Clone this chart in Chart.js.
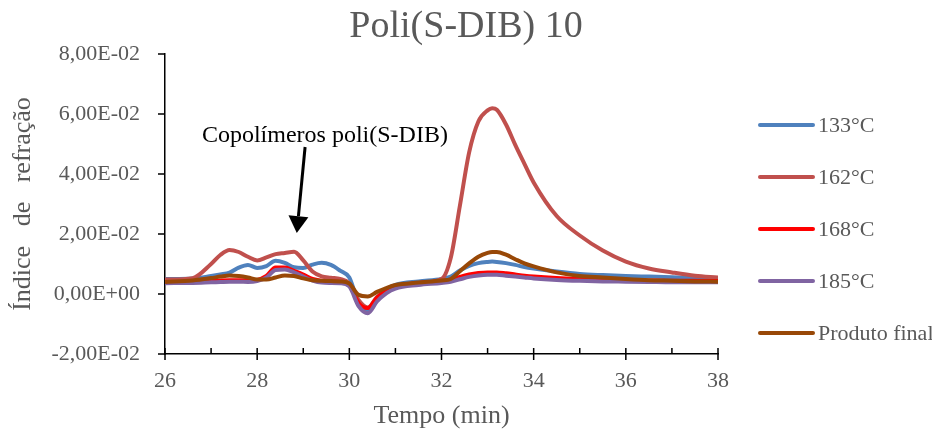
<!DOCTYPE html>
<html>
<head>
<meta charset="utf-8">
<script src="https://cdn.jsdelivr.net/npm/chart.js@4.4.1/dist/chart.umd.min.js"></script>
<style>
  html, body { margin: 0; padding: 0; background: #fff; }
</style>
</head>
<body>
<canvas id="gpc" width="932" height="432"></canvas>
<script>
// retention time (min)
const tempo = [26, 26.6, 27, 27.2, 27.4, 27.6, 27.8, 28, 28.2, 28.4, 28.6, 28.8, 29, 29.2, 29.4, 29.6, 29.8,
  30, 30.2, 30.4, 30.6, 30.8, 31, 31.5, 32, 32.2, 32.4, 32.6, 32.8, 33, 33.1, 33.2, 33.4, 33.6, 33.8, 34,
  34.5, 35, 35.5, 36, 36.5, 37, 37.5, 38];

// refractive index signal per synthesis temperature
const s133 = [0.0050, 0.0052, 0.0060, 0.0065, 0.0071, 0.0088, 0.0097, 0.0087, 0.0093, 0.0111, 0.0104, 0.0089, 0.0087, 0.0098, 0.0104, 0.0097, 0.0078,
  0.0055, -0.0030, -0.0058, -0.0015, 0.0015, 0.0030, 0.0042, 0.0050, 0.0058, 0.0078, 0.0094, 0.0103, 0.0107, 0.0108, 0.0107, 0.0103, 0.0097, 0.0090, 0.0085,
  0.0075, 0.0067, 0.0063, 0.0060, 0.0058, 0.0056, 0.0054, 0.0053];
const s162 = [0.0048, 0.0053, 0.0100, 0.0130, 0.0147, 0.0140, 0.0124, 0.0112, 0.0122, 0.0133, 0.0137, 0.0141, 0.0112, 0.0075, 0.0059, 0.0054, 0.0050,
  0.0035, -0.0020, -0.0045, -0.0010, 0.0012, 0.0025, 0.0037, 0.0050, 0.0120, 0.0295, 0.0472, 0.0575, 0.0612, 0.0619, 0.0614, 0.0565, 0.0497, 0.0434, 0.0372,
  0.0260, 0.0195, 0.0145, 0.0108, 0.0085, 0.0072, 0.0061, 0.0055];
const s168 = [0.0040, 0.0041, 0.0043, 0.0045, 0.0046, 0.0046, 0.0045, 0.0047, 0.0060, 0.0088, 0.0088, 0.0077, 0.0065, 0.0050, 0.0044, 0.0042, 0.0040,
  0.0030, -0.0030, -0.0047, -0.0012, 0.0010, 0.0025, 0.0036, 0.0043, 0.0047, 0.0057, 0.0065, 0.0070, 0.0072, 0.0072, 0.0072, 0.0069, 0.0065, 0.0061, 0.0058,
  0.0053, 0.0050, 0.0048, 0.0046, 0.0045, 0.0044, 0.0044, 0.0043];
const s185 = [0.0036, 0.0037, 0.0039, 0.0040, 0.0041, 0.0041, 0.0040, 0.0043, 0.0055, 0.0080, 0.0082, 0.0072, 0.0058, 0.0045, 0.0038, 0.0037, 0.0036,
  0.0025, -0.0040, -0.0064, -0.0025, 0.0002, 0.0018, 0.0030, 0.0037, 0.0041, 0.0049, 0.0057, 0.0062, 0.0064, 0.0064, 0.0064, 0.0061, 0.0058, 0.0055, 0.0052,
  0.0047, 0.0044, 0.0042, 0.0041, 0.0040, 0.0039, 0.0039, 0.0039];
const sFinal = [0.0040, 0.0045, 0.0053, 0.0058, 0.0062, 0.0060, 0.0055, 0.0048, 0.0048, 0.0055, 0.0062, 0.0060, 0.0052, 0.0046, 0.0044, 0.0043, 0.0042,
  0.0035, -0.0003, -0.0008, 0.0007, 0.0020, 0.0030, 0.0038, 0.0045, 0.0050, 0.0076, 0.0102, 0.0124, 0.0137, 0.0140, 0.0140, 0.0131, 0.0116, 0.0102, 0.0092,
  0.0072, 0.0060, 0.0055, 0.0050, 0.0046, 0.0044, 0.0042, 0.0041];

const seriesNames = ["133°C", "162°C", "168°C", "185°C", "Produto final"];
const seriesColors = ["#4F81BD", "#C0504D", "#FF0000", "#8064A2", "#984807"];
const seriesValues = [s133, s162, s168, s185, sFinal];

const xTicks = [26, 28, 30, 32, 34, 36, 38];
const xMinorTicks = [27, 29, 31, 33, 35, 37];
const yTicks = [-0.02, 0, 0.02, 0.04, 0.06, 0.08];

const SERIF = "'Liberation Serif', 'Times New Roman', serif";
const GREY = "#595959";

// "8,00E-02" style labels
function sciLabel(v) {
  if (Math.abs(v) < 1e-12) v = 0;
  const parts = v.toExponential(2).split("e");
  const exp = parseInt(parts[1], 10);
  return parts[0].replace(".", ",") + "E" + (exp < 0 ? "-" : "+") + String(Math.abs(exp)).padStart(2, "0");
}

// tick marks: y outside, x major crossing, x minor inside
const tickMarks = {
  id: "tickMarks",
  afterDraw(chart) {
    const { ctx, chartArea, scales: { x, y } } = chart;
    ctx.save();
    ctx.strokeStyle = "#000";
    ctx.lineWidth = 1.5;
    ctx.beginPath();
    yTicks.forEach(v => {
      const py = y.getPixelForValue(v);
      ctx.moveTo(chartArea.left - 7, py);
      ctx.lineTo(chartArea.left, py);
    });
    xTicks.forEach(v => {
      const px = x.getPixelForValue(v);
      ctx.moveTo(px, chartArea.bottom - 6);
      ctx.lineTo(px, chartArea.bottom + 6);
    });
    xMinorTicks.forEach(v => {
      const px = x.getPixelForValue(v);
      ctx.moveTo(px, chartArea.bottom - 6);
      ctx.lineTo(px, chartArea.bottom);
    });
    ctx.stroke();
    ctx.restore();
  }
};

// label + arrow pointing at the copolymer peaks
const note = { text: "Copolímeros poli(S-DIB)", tx: 29.47, ty: 0.0527, fromX: 29.04, fromY: 0.049, toX: 28.86, toY: 0.0203 };

const annotation = {
  id: "annotation",
  afterDraw(chart) {
    const { ctx, scales: { x, y } } = chart;
    ctx.save();
    ctx.fillStyle = "#000";
    ctx.strokeStyle = "#000";
    ctx.font = "24px " + SERIF;
    ctx.textAlign = "center";
    ctx.textBaseline = "middle";
    ctx.fillText(note.text, x.getPixelForValue(note.tx), y.getPixelForValue(note.ty));

    const x1 = x.getPixelForValue(note.fromX), y1 = y.getPixelForValue(note.fromY);
    const x2 = x.getPixelForValue(note.toX), y2 = y.getPixelForValue(note.toY);
    const ang = Math.atan2(y2 - y1, x2 - x1);
    const head = 17, half = 10;
    const bx = x2 - head * Math.cos(ang), by = y2 - head * Math.sin(ang);
    ctx.lineWidth = 3;
    ctx.beginPath();
    ctx.moveTo(x1, y1);
    ctx.lineTo(bx, by);
    ctx.stroke();
    ctx.beginPath();
    ctx.moveTo(x2, y2);
    ctx.lineTo(bx + half * Math.sin(ang), by - half * Math.cos(ang));
    ctx.lineTo(bx - half * Math.sin(ang), by + half * Math.cos(ang));
    ctx.closePath();
    ctx.fill();
    ctx.restore();
  }
};

// legend column on the right
const sideLegend = {
  id: "sideLegend",
  afterDraw(chart) {
    const { ctx, chartArea } = chart;
    const x0 = chartArea.right + 42;
    ctx.save();
    ctx.font = "22px " + SERIF;
    ctx.textBaseline = "middle";
    ctx.fillStyle = GREY;
    ctx.lineCap = "round";
    chart.data.datasets.forEach((ds, i) => {
      const cy = 125 + i * 52;
      ctx.strokeStyle = ds.borderColor;
      ctx.lineWidth = 4;
      ctx.beginPath();
      ctx.moveTo(x0, cy);
      ctx.lineTo(x0 + 53, cy);
      ctx.stroke();
      ctx.fillText(ds.label, x0 + 58, cy + 1);
    });
    ctx.restore();
  }
};

const datasets = seriesNames.map((name, i) => ({
  label: name,
  data: tempo.map((t, k) => ({ x: t, y: seriesValues[i][k] })),
  borderColor: seriesColors[i],
  borderWidth: 4,
  pointRadius: 0,
  cubicInterpolationMode: "monotone",
  fill: false,
  order: seriesNames.length - i
}));

new Chart(document.getElementById("gpc"), {
  type: "line",
  data: { datasets },
  options: {
    responsive: false,
    animation: false,
    devicePixelRatio: 1,
    plugins: {
      legend: { display: false },
      tooltip: { enabled: false },
      title: {
        display: true,
        text: "Poli(S-DIB) 10",
        color: GREY,
        font: { family: SERIF, size: 38, weight: "normal" },
        padding: { top: 4, bottom: 4.4 }
      }
    },
    scales: {
      x: {
        type: "linear",
        min: 26,
        max: 38,
        afterBuildTicks: s => { s.ticks = xTicks.map(v => ({ value: v })); },
        afterFit: s => { s.height = 78; },
        grid: { display: false, drawTicks: false },
        border: { color: "#000", width: 1.5 },
        ticks: { color: GREY, font: { family: SERIF, size: 22 }, padding: 14, maxRotation: 0 },
        title: { display: true, text: "Tempo (min)", color: GREY, font: { family: SERIF, size: 26 }, padding: { top: 0, bottom: 0 } }
      },
      y: {
        min: -0.02,
        max: 0.08,
        afterBuildTicks: s => { s.ticks = yTicks.map(v => ({ value: v })); },
        afterFit: s => { s.width = 165; },
        grid: { display: false, drawTicks: false },
        border: { color: "#000", width: 1.5 },
        ticks: { color: GREY, font: { family: SERIF, size: 22 }, padding: 25, callback: v => sciLabel(v) },
        title: { display: true, text: "Índice   de   refração", color: GREY, font: { family: SERIF, size: 26 }, padding: { top: 8, bottom: 0 } }
      },
      // empty right-hand strip that holds the legend column
      legendSpace: {
        position: "right",
        axis: "y",
        min: 0,
        max: 1,
        afterFit: s => { s.width = 214; },
        grid: { display: false, drawTicks: false },
        border: { display: false },
        ticks: { display: false }
      }
    }
  },
  plugins: [tickMarks, annotation, sideLegend]
});
</script>
</body>
</html>
